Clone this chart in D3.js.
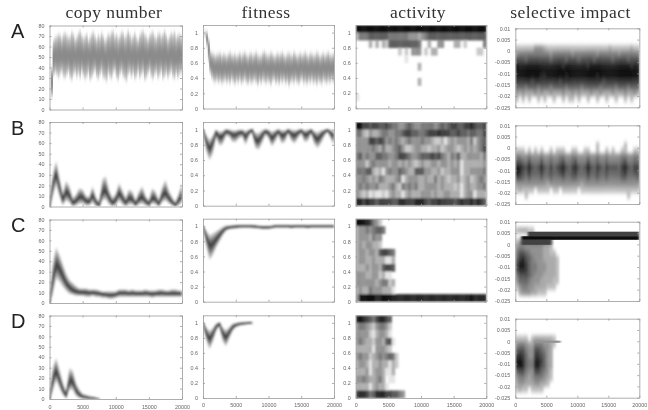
<!DOCTYPE html>
<html lang="en">
<head>
<meta charset="UTF-8">
<title>copy number, fitness, activity, selective impact</title>
<script src="https://cdn.jsdelivr.net/npm/d3@7"></script>
<style>
  html, body { margin: 0; padding: 0; background: #fff; }
  svg { display: block; }
  .title { font-family: "Liberation Serif", serif; font-size: 17.5px; fill: #333; letter-spacing: 0.45px; text-anchor: middle; }
  .letter { font-family: "Liberation Sans", sans-serif; font-size: 20px; fill: #222; }
  .axis path, .axis line { stroke: #999; stroke-width: 0.8px; fill: none; }
  .axis text { font-family: "Liberation Sans", sans-serif; font-size: 5.4px; fill: #666; }
</style>
</head>
<body>
<script>
const titles = ["copy number", "fitness", "activity", "selective impact"];
const letters = ["A", "B", "C", "D"];
const xTicks = [0, 5000, 10000, 15000, 20000];
const copyTicks = [0, 10, 20, 30, 40, 50, 60, 70, 80];
const fitTicks = [0, 0.2, 0.4, 0.6, 0.8, 1];
const impactTicks = [-0.025, -0.02, -0.015, -0.01, -0.005, 0, 0.005, 0.01];

// row A is sampled every 250 generations, the others every 500
const copyMeanA = [0,26,49,51,50,52,51,50,52,51,50,51,50,49,52,50,51,52,50,51,49,50,51,52,49,50,52,51,50,49,50,52,51,49,48,52,50,51,52,51,50,49,51,52,51,50,49,52,51,50,51,50,49,52,50,51,52,50,49,50,52,51,50,49,51,50,52,51,50,52,51,49,50,52,51,50,49,51,52,50,51];
const copyHiA = [0,40,66,69,70,72,71,68,72,73,71,69,70,74,72,67,69,73,75,71,68,70,72,66,69,72,74,70,67,71,69,73,70,66,68,72,71,74,75,70,72,68,70,74,73,69,71,75,72,68,70,73,69,66,71,74,75,72,70,67,71,73,74,70,68,72,73,70,72,75,71,67,70,73,72,74,69,71,72,70,71];
const copyLoA = [0,12,32,35,33,30,34,36,31,30,33,36,30,28,33,35,31,34,30,36,32,29,31,35,28,30,34,37,31,29,33,36,30,29,27,34,31,29,35,37,30,28,33,36,31,29,27,33,35,31,34,29,31,36,30,33,35,28,30,34,37,31,29,33,35,30,32,36,29,31,34,30,33,36,31,29,34,30,33,35,32];
const copyMeanB = [0,20,32,18,6,14,11,3,5,9,9,5,4,11,4,1,14,15,8,3,6,13,8,3,8,7,2,7,9,5,2,8,7,2,10,13,8,4,1,6,10];
const copyHiB = [0,30,43,27,12,24,19,8,11,17,16,10,9,19,9,4,26,28,15,8,12,22,15,8,16,14,6,14,19,10,6,17,14,6,18,25,15,9,4,12,22];
const copyLoB = [0,10,21,10,1,6,4,0,1,3,3,1,1,4,0,0,6,7,2,0,1,6,2,0,2,2,0,2,3,1,0,3,2,0,4,6,3,1,0,1,4];
const copyMeanC = [0,22,37,33,26,19,15,12,11,10,10,10,9.5,10,9.5,9,8.5,8,7.5,7.5,8,9.5,9.5,9.5,9,9.5,9,9,9,9.5,9,8.5,9,9,9.5,9,9,9,9,9,9];
const copyHiC = [0,38,53,46,37,28,22,19,16,14,14,14,13,13,13,12,11,11,11,11,11,13,13,13,12,13,12,12,12,13,12,12,12,13,13,12,12,13,13,12,12];
const copyLoC = [0,9,24,21,16,12,9,8,7,7,7,6,6,7,6,6,5,5,4,4,5,6,6,6,6,6,6,6,6,6,6,5,6,6,6,6,6,6,6,6,6];
const copyMeanD = [0,18,27,18,9,3,17,17,8,4,2,1.5,1,0.8,0.5,0.3];
const copyHiD = [0,30,39,28,16,7,29,27,15,9,5,4,3,2,1.2,0.8];
const copyLoD = [0,8,18,11,4,1,9,9,3,1,0.5,0.3,0.2,0.2,0,0];

const fitMeanA = [1,0.99,0.93,0.78,0.6,0.57,0.54,0.53,0.54,0.53,0.54,0.52,0.53,0.54,0.52,0.54,0.53,0.55,0.53,0.52,0.53,0.52,0.55,0.52,0.53,0.55,0.53,0.51,0.54,0.53,0.52,0.54,0.54,0.51,0.53,0.52,0.55,0.55,0.53,0.53,0.52,0.53,0.54,0.53,0.52,0.54,0.52,0.54,0.54,0.53,0.51,0.53,0.52,0.52,0.53,0.54,0.55,0.52,0.51,0.54,0.54,0.53,0.54,0.52,0.52,0.53,0.55,0.52,0.53,0.53,0.54,0.51,0.52,0.55,0.53,0.53,0.55,0.53,0.53,0.54,0.53];
const fitHiA = [1,1,1,0.92,0.76,0.73,0.72,0.7,0.71,0.72,0.73,0.7,0.72,0.71,0.69,0.72,0.74,0.71,0.7,0.72,0.69,0.71,0.73,0.7,0.72,0.74,0.71,0.69,0.72,0.73,0.7,0.72,0.74,0.71,0.69,0.7,0.73,0.75,0.72,0.7,0.71,0.74,0.72,0.69,0.7,0.73,0.71,0.72,0.74,0.7,0.69,0.72,0.73,0.71,0.7,0.74,0.72,0.69,0.71,0.73,0.7,0.72,0.74,0.71,0.69,0.73,0.72,0.7,0.71,0.74,0.72,0.69,0.71,0.73,0.7,0.72,0.74,0.71,0.7,0.72,0.71];
const fitLoA = [1,0.95,0.82,0.62,0.46,0.4,0.36,0.35,0.37,0.34,0.36,0.33,0.35,0.37,0.34,0.36,0.33,0.38,0.35,0.32,0.36,0.34,0.37,0.33,0.35,0.38,0.34,0.32,0.36,0.33,0.35,0.37,0.34,0.31,0.36,0.33,0.37,0.35,0.33,0.36,0.34,0.31,0.36,0.38,0.33,0.35,0.32,0.36,0.34,0.37,0.33,0.35,0.3,0.34,0.36,0.33,0.37,0.34,0.32,0.36,0.38,0.33,0.35,0.32,0.36,0.34,0.37,0.33,0.35,0.31,0.36,0.34,0.32,0.37,0.35,0.33,0.36,0.34,0.37,0.35,0.36];
const fitMeanB = [1,0.84,0.74,0.83,0.97,0.9,0.91,0.98,0.97,0.93,0.93,0.96,0.97,0.9,0.97,0.995,0.86,0.85,0.92,0.98,0.96,0.88,0.93,0.98,0.92,0.93,0.99,0.94,0.92,0.96,0.99,0.93,0.94,0.99,0.91,0.87,0.92,0.97,0.995,0.95,0.91];
const fitHiB = [1,0.93,0.86,0.92,1,0.97,0.98,1.01,1,0.99,0.99,1,1,0.98,1,1.01,0.96,0.95,0.99,1.01,1,0.97,0.99,1.01,0.99,0.99,1.01,1,0.99,1,1.01,0.99,1,1.01,0.98,0.96,0.99,1,1.01,1,0.98];
const fitLoB = [1,0.72,0.6,0.69,0.9,0.79,0.81,0.92,0.91,0.84,0.84,0.89,0.91,0.8,0.91,0.97,0.76,0.74,0.82,0.93,0.89,0.78,0.84,0.93,0.82,0.84,0.95,0.85,0.82,0.89,0.95,0.84,0.85,0.95,0.81,0.76,0.82,0.91,0.97,0.88,0.8];
const fitMeanC = [1,0.86,0.74,0.76,0.82,0.88,0.93,0.97,0.985,0.99,0.995,1,1,1,1,1,0.995,0.99,0.985,0.985,0.985,0.99,1,1,1,1,1,0.995,1,1,1,1,0.995,1,1,1,1,1,1,1,1];
const fitHiC = [1,0.94,0.88,0.9,0.93,0.96,0.99,1.01,1.01,1.015,1.02,1.02,1.02,1.02,1.02,1.02,1.015,1.01,1.005,1.005,1.005,1.01,1.02,1.02,1.02,1.02,1.02,1.015,1.02,1.02,1.02,1.02,1.015,1.02,1.02,1.02,1.02,1.02,1.02,1.02,1.02];
const fitLoC = [1,0.74,0.56,0.62,0.72,0.8,0.88,0.94,0.96,0.965,0.97,0.975,0.98,0.98,0.98,0.975,0.975,0.97,0.965,0.965,0.965,0.97,0.98,0.98,0.98,0.98,0.98,0.975,0.98,0.98,0.98,0.98,0.975,0.98,0.98,0.98,0.98,0.98,0.98,0.98,0.98];
const fitMeanD = [1,0.86,0.78,0.85,0.95,0.99,0.86,0.8,0.87,0.94,0.97,0.98,0.99,0.99,1,1];
const fitHiD = [1,0.94,0.89,0.93,0.99,1.01,0.94,0.9,0.94,0.99,1,1.01,1.01,1.01,1.01,1.01];
const fitLoD = [1,0.77,0.65,0.75,0.89,0.96,0.76,0.69,0.79,0.89,0.94,0.96,0.97,0.98,0.985,0.99];

// activity: darkness 0-9, one row per 0.1 band from 1.0-1.1 down to 0-0.1, one cell per 500 generations
const activityA = [
  [9,9,9,9,9,9,9,9,9,9,9,9,9,9,9,9,9,9,9,9,9,9,9,9,9,9,9,9,9,9,9,9,9,9,9,9,9,9,9,9],
  [3,5,5,5,6,6,6,6,6,6,5,5,5,5,5,5,4,4,4,3,4,5,6,6,6,6,6,6,6,6,6,6,6,6,6,6,6,6,6,6],
  [0,0,0,0,3,0,3,0,3,2,6,6,6,6,6,6,6,6,6,5,0,0,3,0,0,4,4,0,0,0,3,3,0,2,0,0,0,0,0,5],
  [0,0,0,0,0,0,0,0,0,0,0,0,0,2,0,2,0,4,4,4,0,2,0,3,3,0,0,0,0,0,0,0,0,0,0,0,0,2,2,0],
  [0,0,0,0,0,0,0,0,0,0,0,0,0,0,0,1],
  [0,0,0,0,0,0,0,0,0,0,0,0,0,0,0,0,0,0,0,3],
  [],
  [0,0,0,0,0,0,0,0,0,0,0,0,0,0,0,0,0,0,0,3],
  [],
  [1],
  []
];
const activityB = [
  [9,9,7,7,6,7,7,6,6,7,6,5,5,4,4,5,6,5,4,4,5,5,5,5,4,5,6,5,6,7,7,6,6,7,7,8,7,6,6,7],
  [5,5,3,2,4,3,3,4,5,5,4,4,5,5,6,7,7,6,6,5,5,6,7,7,7,8,7,7,7,6,6,7,6,6,5,6,6,5,5,7],
  [4,4,4,4,7,7,6,7,6,4,5,4,5,4,3,4,5,4,4,4,5,4,4,3,2,2,3,1,3,4,3,4,4,4,3,5,2,4,5,6],
  [4,4,4,4,4,5,4,3,5,3,3,4,5,6,4,2,2,3,4,4,3,3,2,3,3,4,2,3,4,4,3,2,3,4,3,4,3,4,5,7],
  [5,6,4,5,4,4,6,6,5,5,4,4,5,7,7,6,5,4,4,5,6,6,6,7,6,7,5,4,3,5,4,6,3,3,4,4,4,4,3,5],
  [4,4,4,2,4,5,4,4,4,4,3,4,4,3,4,3,4,3,2,3,4,3,3,4,4,3,4,4,3,4,3,4,1,3,3,3,3,3,3,4],
  [5,5,5,6,6,3,2,3,1,4,5,4,4,6,5,4,3,3,6,6,6,4,4,3,3,4,2,3,3,4,4,4,1,3,3,4,4,4,4,5],
  [4,4,5,4,3,4,3,5,4,3,3,3,4,5,1,3,4,4,4,3,3,4,3,3,5,3,4,3,2,3,3,4,2,3,4,2,3,4,5,4],
  [4,5,4,5,4,4,5,3,3,3,4,5,3,2,5,4,5,4,5,3,3,4,4,4,4,3,4,3,3,3,2,3,1,3,4,3,3,4,4,5],
  [4,3,2,3,1,2,1,1,2,1,3,4,3,3,1,3,4,3,3,3,4,4,4,3,4,3,3,4,4,3,3,3,1,3,4,4,1,3,3,3],
  [8,8,7,8,7,7,6,7,7,7,7,6,6,8,8,7,7,7,8,8,8,7,6,7,7,8,7,7,7,7,6,7,8,7,7,8,7,8,7,6]
];
const activityC = [
  [9,9,9,8,7,5,4,2],
  [3,4,4,5,4,5,6,6,5],
  [3,4,4,4,3,5,4,4],
  [3,4,3,4,4,3,3,2],
  [3,4,4,3,4,4,3,6,7,7,6,5],
  [3,4,4,3,3,4,3,3,3,1,1,3],
  [3,3,3,4,3,4,4,3,6,7,7,6],
  [4,4,4,3,3,4,4,2,3,1,1],
  [4,4,4,4,4,4,3,4,5,5,2,3],
  [3,4,3,3,5,4,4,4,3,3,3,1],
  [4,9,9,9,9,9,8,8,9,9,9,8,8,8,8,8,8,8,8,8,8,8,8,8,8,8,8,8,8,8,8,8,8,8,8,9,8,8,8,8]
];
const activityD = [
  [8,9,8,7,6,5,7,8,8,7,6],
  [4,5,5,4,3,2,4,5,5,4,2],
  [4,4,4,4,2,1,3,4,4,3,1],
  [4,5,4,3,3,2,4,4,3,6,7,1],
  [3,3,3,3,3,1,4,4,4,3,2],
  [4,5,4,4,2,3,4,5,4,5,6,5,2],
  [3,4,4,3,1,3,3,4,3,3,1,3,2],
  [3,3,3,4,1,3,4,4,3,1,1,3],
  [4,4,5,4,3,3,4,5,3,0,1,1],
  [3,3,3,3,1,3,4,3,3,1],
  [7,8,8,7,5,6,8,8,8,7,7,6,6,5,4]
];

// selective impact: darkness 0-9, one row per 0.0025 from 0.0075-0.01 down to -0.025--0.0225
const impactA = [
  [],
  [],
  [],
  [1,1,1,1,1,1,3,3,3,2,1,1,1,1,1,1,1,1,1,1,1,1,1,1,1,1,1,1,1,1,2,1,1,1,1,1,1,2,1,1],
  [3,4,4,4,4,4,4,4,4,4,4,3,4,4,4,4,4,4,3,4,4,4,4,4,4,4,3,4,4,4,4,4,4,3,4,4,4,4,4,4],
  [6,6,6,5,6,6,6,6,6,6,6,5,6,6,6,6,5,6,6,6,5,6,6,6,6,5,6,6,6,6,6,5,6,6,6,6,5,6,6,6],
  [9,8,8,8,8,8,8,8,8,8,8,8,8,8,8,7,8,8,8,8,8,8,8,7,8,8,8,8,8,8,8,8,8,8,8,8,8,7,8,8],
  [9,9,9,9,9,9,9,9,9,9,9,9,9,9,9,9,9,9,9,9,9,9,9,9,9,9,9,9,9,9,9,9,9,9,9,9,9,9,9,9],
  [9,9,9,9,9,9,9,9,8,8,9,9,9,9,9,9,8,9,9,9,9,9,9,9,9,9,8,9,9,9,9,9,9,9,9,9,9,9,9,9],
  [7,7,7,7,7,6,7,7,7,7,7,7,7,7,6,7,7,7,7,7,7,7,7,7,7,7,7,7,6,7,7,7,7,7,7,7,7,7,7,7],
  [5,5,5,4,5,5,5,4,5,5,5,4,5,5,5,5,4,5,5,5,5,4,5,5,5,5,5,4,5,5,5,5,4,5,5,5,4,5,5,5],
  [3,2,3,2,2,2,3,2,3,2,2,3,2,2,2,3,2,2,3,2,3,2,2,2,3,2,2,3,2,2,2,3,2,2,2,3,2,2,3,2],
  [1,0,1,0,1,0,0,1,0,1,0,0,1,0,0,1,0,1,1,0,1,0,0,1,0,0,1,0,0,1,0,0,1,0,0,1,0,1,0,0],
  []
];
const impactB = [
  [],
  [],
  [],
  [0,0,0,0,0,0,0,0,0,0,0,0,0,0,0,0,0,0,0,0,0,0,0,0,0,0,1,0,0,0,0,0,0,0,0,1],
  [1,1,1,0,1,0,1,0,1,0,0,1,0,1,1,1,0,0,1,1,0,0,1,1,0,0,1,0,0,1,0,1,0,0,1,1,0,0,1,1],
  [4,4,3,3,4,3,3,3,4,3,3,4,3,3,4,4,3,3,4,4,3,3,3,4,3,3,4,3,3,4,3,3,3,3,4,4,3,3,4,4],
  [6,6,5,4,6,4,4,4,6,4,4,5,4,4,5,6,4,4,5,6,4,4,4,6,4,4,5,4,4,5,4,4,4,4,5,6,4,4,5,5],
  [9,9,7,6,8,6,5,6,8,6,5,7,5,6,7,8,6,5,7,8,6,5,6,8,6,5,7,6,5,7,6,6,6,5,7,8,6,5,7,7],
  [9,8,6,5,7,5,5,5,7,5,5,6,5,5,6,7,5,5,6,7,5,5,5,7,5,5,6,5,5,6,5,5,5,5,6,7,5,5,6,6],
  [6,6,5,4,5,4,4,4,5,4,4,5,4,4,4,5,4,4,5,5,4,4,4,5,4,4,5,4,4,5,4,4,4,4,5,5,4,4,4,5],
  [3,3,3,3,3,3,3,3,3,3,2,3,3,3,3,3,3,3,3,3,3,2,3,3,3,3,3,3,3,3,3,3,3,3,3,3,3,3,3,3],
  [1,2,1,1,1,1,0,1,1,1,1,0,1,1,0,1,1,1,1,1,0,1,1,1,1,1,1,1,1,1,1,1,1,1,1,1,1,1,1,1],
  [0,0,0,1,0,0,0,0,0,0,0,0,0,0,0,0,0,0,0,0,0,0,0,0,0,0,0,0,0,0,0,0,0,0,0,0,1],
  []
];
const impactC = [
  [],
  [1,2,2,2,1,1],
  [],
  [1,3,5,6,6,6,6,6,6,6,5,4],
  [3,4,4,3,3,3,3,3,3,2,2,1],
  [4,6,6,5,4,3,3,3,3,2,2,1,1],
  [5,7,8,6,5,4,3,3,3,2,2,2,2,1],
  [6,9,9,7,5,4,4,3,3,3,2,2,2,1],
  [6,8,8,7,5,4,4,3,3,3,2,2,2,1],
  [4,6,6,6,5,4,3,3,3,2,2,2,2,1],
  [3,5,5,5,4,3,3,3,2,2,2,2,1,1],
  [1,3,4,4,3,3,2,2,2,2,1,1,1],
  [0,2,3,3,3,2,2,1,1,1],
  []
];
const impactD = [
  [],
  [],
  [],
  [1,1,1,1,0,1,2,2,2,2,2,2,1],
  [3,4,4,3,2,2,4,4,4,3,3,2,1],
  [5,6,6,4,3,3,6,6,5,4,3,2],
  [7,8,7,5,3,3,7,7,6,5,3,2],
  [9,9,8,5,4,4,8,8,7,5,3,2],
  [8,9,8,5,4,4,8,8,6,5,3,2],
  [5,6,6,4,3,3,6,6,5,4,3,1],
  [3,4,4,3,2,3,4,4,4,3,2,1],
  [2,3,3,2,2,2,3,3,2,2,1],
  [1,2,1,1,0,1,1,1,1],
  []
];
// dense strips in the impact panels: row, generations from, to; impact from, to; darkness
const stripRow = [2, 2, 2, 3];
const stripFrom = [2000, 1000, 1000, 3000];
const stripTo = [20000, 20000, 5800, 7300];
const stripLo = [0.0035, 0.002, -0.0002, -0.0007];
const stripHi = [0.0056, 0.0036, 0.002, 0.0003];
const stripDark = [7, 9, 7, 4];

const width = 648, height = 410;
const colX = [[49.5, 182], [203, 334], [355.7, 486.3], [515.3, 639.3]];
const rowY = [
  [[25.5, 109.5], [122, 206.5], [219.5, 303], [315.5, 399]],
  [[25, 108.5], [122, 205.7], [218.7, 301.7], [315.3, 398]],
  [[25, 108.3], [122, 205.7], [218.7, 301.7], [315.3, 398]],
  [[28.3, 107.3], [125.3, 204], [221.7, 301], [318.7, 397.7]]
];
const titleX = [114, 266, 418, 570.5];
const letterY = [38, 135, 232, 328];

const fans = [
  [[copyMeanA, copyHiA, copyLoA], [copyMeanB, copyHiB, copyLoB], [copyMeanC, copyHiC, copyLoC], [copyMeanD, copyHiD, copyLoD]],
  [[fitMeanA, fitHiA, fitLoA], [fitMeanB, fitHiB, fitLoB], [fitMeanC, fitHiC, fitLoC], [fitMeanD, fitHiD, fitLoD]]
];
const activity = [activityA, activityB, activityC, activityD];
const impact = [impactA, impactB, impactC, impactD];

const grey = d3.scaleLinear().domain([0, 9]).range(["#ffffff", "#0c0c0c"]);
const impactGrey = d3.scaleLinear().domain([0, 1, 9]).range(["#ffffff", "#bdbdbd", "#0c0c0c"]);

const svg = d3.select("body").append("svg")
  .attr("width", width)
  .attr("height", height);

const defs = svg.append("defs");
function blur(id, sd) {
  defs.append("filter").attr("id", id)
    .attr("x", "-20%").attr("y", "-20%").attr("width", "140%").attr("height", "140%")
    .append("feGaussianBlur").attr("stdDeviation", sd);
}
blur("soft", 0.45);
blur("fanBlur", "1 1");
blur("fanBlurA", "0.7 2.6");
blur("cellBlur", 1.1);
blur("impactBlur", "1.3 2");
blur("stripBlur", "0.8 0.6");

const root = svg.append("g").attr("filter", "url(#soft)");

root.selectAll(".title").data(titles).join("text")
  .attr("class", "title")
  .attr("x", (d, i) => titleX[i])
  .attr("y", 18)
  .text(d => d);

root.selectAll(".letter").data(letters).join("text")
  .attr("class", "letter")
  .attr("x", 11)
  .attr("y", (d, i) => letterY[i])
  .text(d => d);

function drawFan(g, x, y, series, row) {
  const mean = series[0], hi = series[1], lo = series[2];
  const step = row == 0 ? 250 : 500;
  // outer to inner bands around the mean
  const layers = row == 0
    ? [[1, "#d2d2d2"], [0.85, "#b4b4b4"], [0.6, "#9c9c9c"], [0.35, "#8b8b8b"]]
    : [[1.05, "#d0d0d0"], [0.85, "#a8a8a8"], [0.6, "#7c7c7c"], [0.35, "#585858"]];
  let f = 1;
  const area = d3.area()
    .curve(row == 0 ? d3.curveStepAfter : d3.curveLinear)
    .x((d, i) => x(i * step))
    .y0((d, i) => y(d + (lo[i] - d) * f))
    .y1((d, i) => y(d + (hi[i] - d) * f));
  const gg = g.append("g").attr("filter", row == 0 ? "url(#fanBlurA)" : "url(#fanBlur)");
  layers.forEach(function(l) {
    f = l[0];
    gg.append("path").attr("d", area(mean)).attr("fill", l[1]);
  });
  if (row > 0) {
    const line = d3.line().x((d, i) => x(i * step)).y(d => y(d));
    gg.append("path").attr("d", line(mean))
      .attr("fill", "none").attr("stroke", "#3e3e3e").attr("stroke-width", 1.6);
  }
}

function drawCells(g, x, y, rows, top, step, filter, color) {
  const gg = g.append("g").attr("filter", filter);
  rows.forEach(function(row, r) {
    gg.selectAll(null).data(row.map((d, i) => [d, i]).filter(d => d[0] > 0))
      .join("rect")
      .attr("x", d => x(d[1] * 500))
      .attr("width", d => x((d[1] + 1) * 500) - x(d[1] * 500) + 0.3)
      .attr("y", y(top - r * step))
      .attr("height", y(top - (r + 1) * step) - y(top - r * step) + 0.3)
      .attr("fill", d => color(d[0]));
  });
}

colX.forEach(function(cx, c) {
  rowY[c].forEach(function(ry, r) {
    const x = d3.scaleLinear().domain([0, 20000]).range(cx);
    const yDomain = c == 0 ? [0, 80] : c == 3 ? [-0.025, 0.01] : [0, 1.1];
    const y = d3.scaleLinear().domain(yDomain).range([ry[1], ry[0]]);
    const yTicks = c == 0 ? copyTicks : c == 3 ? impactTicks : fitTicks;

    const id = "clip" + c + r;
    defs.append("clipPath").attr("id", id).append("rect")
      .attr("x", cx[0]).attr("y", ry[0])
      .attr("width", cx[1] - cx[0]).attr("height", ry[1] - ry[0]);
    const g = root.append("g").attr("clip-path", "url(#" + id + ")");

    if (c < 2) drawFan(g, x, y, fans[c][r], r);
    if (c == 2) drawCells(g, x, y, activity[r], 1.1, 0.1, "url(#cellBlur)", grey);
    if (c == 3) {
      drawCells(g, x, y, impact[r], 0.01, 0.0025, "url(#impactBlur)", impactGrey);
      g.append("g").attr("filter", "url(#stripBlur)")
        .selectAll("rect").data(stripDark.map((d, i) => i).filter(i => stripRow[i] == r)).join("rect")
        .attr("x", i => x(stripFrom[i]))
        .attr("width", i => x(stripTo[i]) - x(stripFrom[i]))
        .attr("y", i => y(stripHi[i]))
        .attr("height", i => y(stripLo[i]) - y(stripHi[i]))
        .attr("fill", i => grey(stripDark[i]));
    }

    const bottom = d3.axisBottom(x).tickValues(xTicks).tickSize(-2).tickPadding(r == 3 ? (c == 0 ? 6 : 5) : 0)
      .tickSizeOuter(0).tickFormat(r == 3 ? d3.format("d") : "");
    const top = d3.axisTop(x).tickValues(xTicks).tickSize(-2).tickSizeOuter(0).tickFormat("");
    const left = d3.axisLeft(y).tickValues(yTicks).tickSize(-2).tickPadding(5)
      .tickSizeOuter(0).tickFormat(d => d);
    const right = d3.axisRight(y).tickValues(yTicks).tickSize(-2).tickSizeOuter(0).tickFormat("");

    root.append("g").attr("class", "axis").attr("transform", "translate(0," + ry[1] + ")").call(bottom);
    root.append("g").attr("class", "axis").attr("transform", "translate(0," + ry[0] + ")").call(top);
    root.append("g").attr("class", "axis").attr("transform", "translate(" + cx[0] + ",0)").call(left);
    root.append("g").attr("class", "axis").attr("transform", "translate(" + cx[1] + ",0)").call(right);
  });
});
</script>
</body>
</html>
